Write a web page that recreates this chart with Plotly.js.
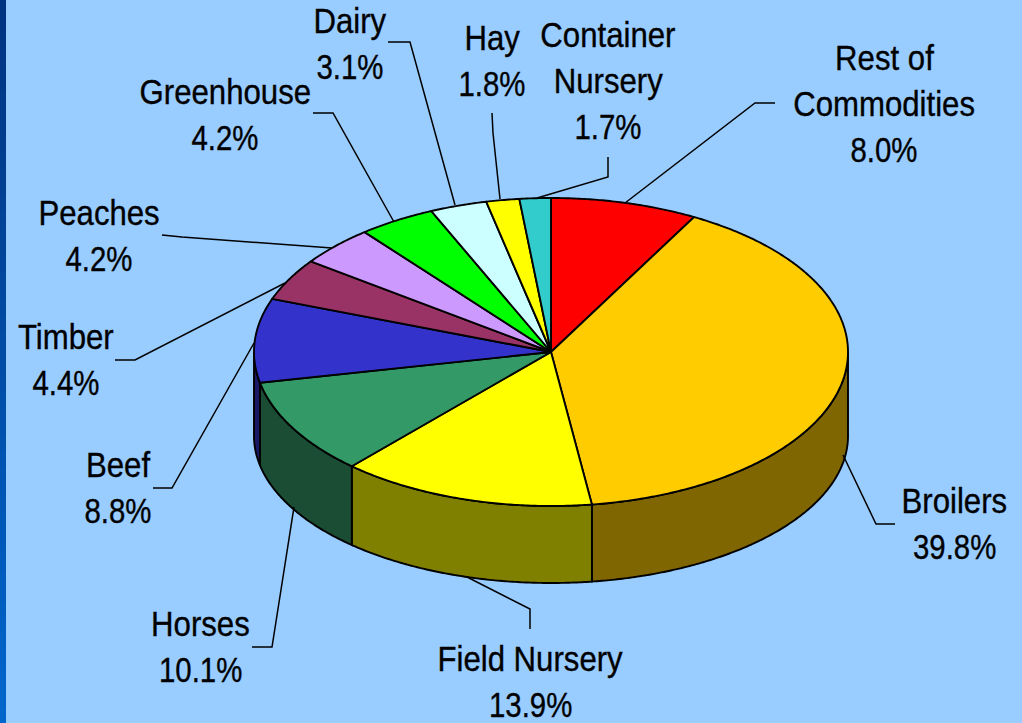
<!DOCTYPE html>
<html>
<head>
<meta charset="utf-8">
<script src="https://cdn.plot.ly/plotly-3.0.1.min.js"></script>
<style>html,body{margin:0;padding:0;background:#99CCFF;overflow:hidden}</style>
</head>
<body>
<div id="chart" style="width:1022px;height:723px"></div>
<script>
// Data, clockwise from 12 o'clock
const categories = ["Rest of Commodities","Broilers","Field Nursery","Horses","Beef","Timber","Peaches","Greenhouse","Dairy","Hay","Container Nursery"];
const shares = [8.0,39.8,13.9,10.1,8.8,4.4,4.2,4.2,3.1,1.8,1.7];
const labelLines = [["Rest of","Commodities"],["Broilers"],["Field Nursery"],["Horses"],["Beef"],["Timber"],["Peaches"],["Greenhouse"],["Dairy"],["Hay"],["Container","Nursery"]];

// Styles
const topColors = ["#FF0000","#FFCC00","#FFFF00","#339966","#3333CC","#993366","#CC99FF","#00FF00","#CCFFFF","#FFFF00","#33CCCC"];
const sideColors = ["#800000","#806600","#808000","#1A4D33","#191966","#4D1A33","#664D80","#008000","#668080","#808000","#1A6666"];

// Layout (pixel-based axis coordinates)
const CX = 551, CY = 352, RX = 297, RY = 154;
const BOTTOM_CY = 436, BOTTOM_RY = 147;
const LINE_GAP = 46, FONT_SIZE = 35, TEXT_SQUEEZE = 0.89, PCT_SQUEEZE = 0.84, FONT = '"Liberation Sans",Arial,sans-serif';
const labelAnchors = [[884,57],[954,500],[530,658],[200,623],[118,464],[66,336],[99,212],[225,91],[350,20],[492,37],[608,34]];
const leaderX = [[775,755,625],[895,876,843],[530,530,467],[252,272,294],[153,172,254],[115,135,285],[162,182,332],[313,333,394],[388,410,455],[492,493,500],[608,608,537]];
const leaderY = [[103,103,203],[524,524,455],[629,609,577],[647,647,507],[488,488,343],[360,360,283],[235,237,248],[113,113,222],[42,42,205],[113,133,199],[157,177,198]];

const traces = [];
const rad = d => d * Math.PI / 180;
function arc(a1, a2, cy, ry) {
  const n = Math.max(2, Math.ceil(Math.abs(a2 - a1) * 2));
  const xs = [], ys = [];
  for (let i = 0; i <= n; i++) {
    const a = rad(a1 + (a2 - a1) * i / n);
    xs.push(CX + RX * Math.sin(a));
    ys.push(cy - ry * Math.cos(a));
  }
  return [xs, ys];
}
function poly(xs, ys, fill, width) {
  traces.push({type:"scatter", mode:"lines", x:xs, y:ys, fill:"toself", fillcolor:fill,
    line:{color:"#000000", width:width, simplify:false}, hoverinfo:"skip", showlegend:false});
}

// Angular extents from the shares
const total = shares.reduce((a,b)=>a+b,0);
let run = 0;
const extents = shares.map(v => { const s = run; run += v; return [s/total*360, run/total*360]; });

// Side wall: only the front half of the disc is visible
extents.forEach((e,i) => {
  const a1 = Math.max(e[0],90), a2 = Math.min(e[1],270);
  if (a2 <= a1) return;
  const t = arc(a1,a2,CY,RY), b = arc(a2,a1,BOTTOM_CY,BOTTOM_RY);
  poly(t[0].concat(b[0],[t[0][0]]), t[1].concat(b[1],[t[1][0]]), sideColors[i], 1.9);
});
// Top face
extents.forEach((e,i) => {
  const t = arc(e[0],e[1],CY,RY);
  poly([CX].concat(t[0],[CX]), [CY].concat(t[1],[CY]), topColors[i], 1.9);
});
// Leader lines
categories.forEach((c,i) => {
  traces.push({type:"scatter", mode:"lines", x:leaderX[i], y:leaderY[i],
    line:{color:"#000000", width:1.5}, hoverinfo:"skip", showlegend:false});
});

// Labels, one annotation per text line for exact line spacing
const annotations = [];
categories.forEach((c,i) => {
  labelLines[i].concat([shares[i].toFixed(1)+"%"]).forEach((txt,k) => {
    annotations.push({xref:"x", yref:"y", x:labelAnchors[i][0], y:labelAnchors[i][1]+k*LINE_GAP,
      text:txt, showarrow:false, xanchor:"center", yanchor:"middle",
      font:{family:FONT, size:FONT_SIZE, color:"#000000"}});
  });
});

// Left gradient strip
const shapes = [];
const STRIP_W = 6, STEPS = 48, C0 = [0,51,128], C1 = [0,102,204];
for (let i = 0; i < STEPS; i++) {
  const f = i/(STEPS-1);
  const col = "rgb("+C0.map((c,j)=>Math.round(c+(C1[j]-c)*f)).join(",")+")";
  shapes.push({type:"rect", xref:"x", yref:"y", x0:0, x1:STRIP_W, y0:723*i/STEPS, y1:723*(i+1)/STEPS+1,
    fillcolor:col, line:{width:0}, layer:"below"});
}

Plotly.newPlot("chart", traces, {
  width:1022, height:723,
  margin:{l:0,r:0,t:0,b:0,pad:0},
  paper_bgcolor:"#99CCFF", plot_bgcolor:"#99CCFF",
  showlegend:false, hovermode:false,
  xaxis:{range:[0,1022], visible:false, fixedrange:true},
  yaxis:{range:[723,0], visible:false, fixedrange:true},
  annotations:annotations, shapes:shapes
}, {displayModeBar:false, staticPlot:true}).then(() => {
  // No narrow face is installed: condense the real text glyphs horizontally
  document.querySelectorAll("#chart .annotation-text").forEach(t => {
    const w = t.getComputedTextLength();
    const s = t.textContent.endsWith("%") ? PCT_SQUEEZE : TEXT_SQUEEZE;
    t.setAttribute("textLength", (w * s).toFixed(1));
    t.setAttribute("lengthAdjust", "spacingAndGlyphs");
    t.style.stroke = "#000000";
    t.style.strokeWidth = "0.35px";
  });
});
</script>
</body>
</html>
